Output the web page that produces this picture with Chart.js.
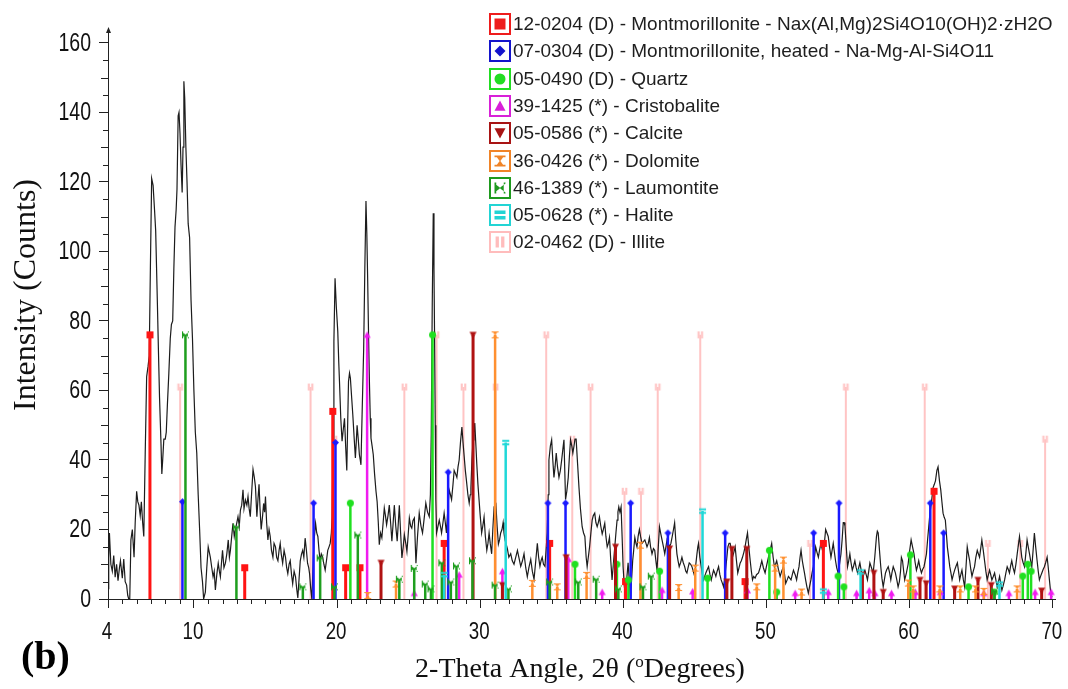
<!DOCTYPE html>
<html>
<head>
<meta charset="utf-8">
<title>XRD pattern (b)</title>
<script src="https://cdn.jsdelivr.net/npm/chart.js@4.4.1/dist/chart.umd.min.js"></script>
<style>
  html, body { margin: 0; padding: 0; background: #ffffff; }
  #wrap { width: 1068px; height: 689px; position: relative; }
  canvas { display: block; }
</style>
</head>
<body>
<div id="wrap"><canvas id="xrd" width="1068" height="689"></canvas></div>
<script>
// ---- axis tick labels ----
const xTickValues = [4, 10, 20, 30, 40, 50, 60, 70];
const yTickValues = [0, 20, 40, 60, 80, 100, 120, 140, 160];

// ---- measured scan: [2-theta, counts] ----
const scan = [
  [4.0,3],[4.05,12],[4.1,19],[4.2,10],[4.3,8],[4.4,12.5],[4.5,6.3],[4.6,10],[4.7,5.3],[4.8,9],[4.87,11],[5.0,6],[5.1,11.5],[5.2,5],[5.3,4],[5.38,1],[5.45,0],[5.52,0],
  [5.6,17],[5.7,20],[5.82,12],[5.9,22],[6.0,31],[6.08,28],[6.16,27],[6.25,24],[6.33,28],[6.42,22],[6.5,18],[6.6,42],[6.7,64],[6.8,67],[6.88,70],[6.96,95],
  [7.05,121],[7.15,119],[7.25,112],[7.33,106],[7.45,85],[7.52,72],[7.6,58],[7.7,45],[7.76,36],[7.82,40],[7.9,46],[8.0,46],[8.07,48],[8.15,56],[8.25,65],[8.35,75],
  [8.43,79],[8.52,80],[8.6,95],[8.68,107],[8.76,112],[8.82,118],[8.9,139],[8.96,140],[9.03,134],[9.1,125],[9.18,117],[9.24,130],[9.3,149],[9.36,144],[9.44,130],
  [9.52,120],[9.6,108],[9.7,104],[9.8,86],[9.9,75],[10.0,60],[10.1,48],[10.2,42],[10.3,30],[10.4,20],[10.5,9],[10.6,5],[10.68,0],
  [10.8,2],[10.9,9],[11.0,15],[11.15,12],[11.25,9],[11.34,6.4],[11.42,8],[11.5,2.6],[11.6,7],[11.7,10.3],[11.78,8],[11.85,6.4],[11.92,10],[12.0,14],[12.1,9],
  [12.2,10.3],[12.3,13],[12.4,17],[12.48,12],[12.55,14],[12.64,18],[12.73,21.8],[12.82,18],[12.9,20],[13.0,22],[13.08,23.7],[13.17,21],[13.25,25.6],[13.34,27],
  [13.43,31.4],[13.5,26],[13.6,28.5],[13.7,27],[13.78,29.5],[13.86,26],[13.94,23.7],[14.04,31],[14.13,37.3],[14.22,35],[14.3,32.3],[14.4,23.7],[14.48,29],
  [14.55,33],[14.62,26],[14.7,20],[14.8,24],[14.87,27.5],[14.94,25],[15.0,29.5],[15.08,22],[15.17,17],[15.25,20],[15.33,18],[15.42,14],[15.52,12],[15.6,16],
  [15.7,15],[15.78,12],[15.87,11],[15.95,14],[16.03,16],[16.1,13],[16.2,10.3],[16.3,14],[16.4,12],[16.48,9],[16.56,7.3],[16.65,10],[16.73,11],[16.82,7],
  [16.9,4.4],[17.0,8],[17.1,6.4],[17.18,3],[17.26,0.3],[17.35,6],[17.43,11],[17.52,13],[17.6,14],[17.68,12],[17.77,17.5],[17.86,14],[17.94,10.3],[18.02,9],
  [18.08,7.3],[18.16,3],[18.24,0],[18.31,8],[18.38,16],[18.44,19],[18.5,21.8],[18.58,19],[18.66,18],[18.74,14],[18.82,11],[18.9,13],[19.0,12],[19.08,10],
  [19.17,8.3],[19.26,11],[19.35,14],[19.44,15],[19.52,16],[19.6,19],[19.66,23.7],[19.72,45],[19.78,74],[19.86,92.3],[19.95,84],[20.05,77],[20.12,68],
  [20.17,62.6],[20.26,52],[20.35,45.4],[20.44,49],[20.52,52],[20.6,44],[20.68,37],[20.74,50],[20.8,62.6],[20.87,65],[20.93,63.6],[21.02,58],[21.1,53],
  [21.2,46],[21.28,40.6],[21.34,45],[21.4,50],[21.48,46],[21.56,41.5],[21.62,40],[21.67,38.6],[21.76,55],[21.86,72],[21.94,95],[22.02,114.5],[22.08,105],
  [22.14,91.5],[22.2,76],[22.26,62.6],[22.32,52],[22.37,46.3],[22.45,44],[22.53,41.5],[22.62,36],[22.72,31],[22.8,28],[22.88,22],[22.95,15.6],[23.04,19],
  [23.13,17.6],[23.22,22],[23.3,26.2],[23.38,24],[23.46,21.4],[23.56,24],[23.65,27],[23.74,22],[23.83,16.6],[23.92,22],[24.0,27],[24.1,21],[24.2,16.6],
  [24.28,22],[24.35,27],[24.44,19],[24.53,11.8],[24.62,15],[24.7,18.5],[24.8,16],[24.88,13.7],[24.96,18],[25.05,23.3],[25.14,21],[25.22,20.4],[25.3,22.5],
  [25.4,23.3],[25.51,10.3],[25.62,18],[25.74,24.7],[25.86,21],[25.97,19],[26.08,23],[26.2,27.6],[26.32,25],[26.44,23.7],[26.52,30],[26.58,47.7],[26.65,85],
  [26.72,111],[26.77,95],[26.81,76.5],[26.86,50],[26.9,28.6],[26.95,19],[27.05,21],[27.14,22.7],[27.22,21],[27.3,19],[27.4,22],[27.48,24.7],[27.56,22],
  [27.64,19],[27.74,26],[27.83,31.4],[27.92,30],[28.0,28.6],[28.1,33],[28.18,37],[28.28,36],[28.37,35],[28.45,38],[28.53,40],[28.62,45],[28.72,49.5],
  [28.8,45],[28.88,41],[28.96,37],[29.04,34],[29.14,30],[29.23,27.6],[29.3,30],[29.35,32],[29.42,40],[29.5,45.8],[29.56,48],[29.62,50.6],[29.7,44],
  [29.76,38.9],[29.84,33],[29.92,28.5],[30.0,24],[30.1,19],[30.18,21],[30.27,23.6],[30.36,18],[30.46,14],[30.54,16],[30.62,19],[30.7,16],[30.8,13],
  [30.88,20],[30.97,26.5],[31.03,28],[31.09,27.6],[31.18,21],[31.27,15.8],[31.35,17],[31.43,19],[31.52,20],[31.6,22],[31.66,19],[31.73,17],[31.8,16],
  [31.9,14.4],[32.0,12],[32.13,13],[32.24,11],[32.36,10],[32.48,12],[32.6,14],[32.7,12],[32.83,9.4],[32.95,11],[33.06,13],[33.18,9],[33.29,6.4],[33.4,9],
  [33.53,11.4],[33.64,8],[33.76,5.7],[33.88,11],[33.99,16],[34.08,12],[34.17,9.4],[34.25,11],[34.33,12],[34.42,10],[34.52,9.4],[34.6,14],[34.68,19],
  [34.75,30],[34.8,40],[34.9,44],[34.99,45.8],[35.07,40],[35.15,35],[35.23,38],[35.31,42],[35.4,38],[35.5,35],[35.6,37],[35.69,40],[35.77,43],[35.85,45.8],
  [35.96,28.6],[36.05,31],[36.15,35],[36.23,41],[36.31,45.8],[36.4,44],[36.47,42],[36.55,44],[36.62,46],[36.7,46],[36.8,39],[36.9,32],[37.0,26],
  [37.12,20.8],[37.22,19],[37.31,18],[37.4,12],[37.47,9.3],[37.55,12],[37.64,15],[37.73,19],[37.82,22.7],[37.9,24],[38.0,24.7],[38.08,22],[38.17,20.8],
  [38.25,22],[38.33,23.6],[38.42,21],[38.52,18.7],[38.6,20],[38.7,21.8],[38.78,18],[38.87,15],[38.95,16],[39.03,17.7],[39.12,11],[39.21,5.5],[39.3,10],
  [39.4,15],[39.48,19],[39.56,22.7],[39.62,25],[39.68,26.5],[39.76,25],[39.84,26.5],[39.92,17],[39.98,9.3],[40.06,4],[40.15,0.5],[40.24,6],[40.33,10.4],
  [40.42,5],[40.5,0.5],[40.58,6],[40.65,11],[40.72,14],[40.8,17.7],[40.88,16],[40.95,15],[41.03,18],[41.12,20],[41.2,18],[41.3,16],[41.4,16.5],[41.5,17],
  [41.58,16],[41.65,15],[41.74,16],[41.82,17.7],[41.9,15],[42.0,13],[42.1,14.5],[42.19,14],[42.27,11],[42.35,8.3],[42.44,15],[42.52,20.8],[42.6,19],
  [42.7,17],[42.8,15],[42.89,13],[42.97,15],[43.05,17],[43.14,16],[43.23,15],[43.32,16],[43.4,17.7],[43.5,20],[43.58,21.9],[43.66,17],[43.74,13],[43.82,11],
  [43.9,9.3],[44.0,10.5],[44.09,12],[44.18,10.5],[44.28,9.3],[44.36,8],[44.44,7.5],[44.52,9],[44.6,10.4],[44.7,10],[44.79,9.3],[44.88,8],[44.98,6.5],
  [45.06,10],[45.14,13],[45.2,15],[45.25,16],[45.34,12],[45.44,9.3],[45.52,7],[45.6,5.5],[45.68,6.5],[45.76,7.5],[45.86,8.5],[45.95,9.3],[46.05,7],
  [46.14,5.5],[46.22,7],[46.3,8.3],[46.38,7.5],[46.46,6.5],[46.55,8],[46.65,9.3],[46.74,7],[46.83,5.5],[46.92,4.5],[47.0,3.5],[47.08,6],[47.16,9.3],
  [47.23,12],[47.3,15],[47.38,16],[47.46,16],[47.54,14],[47.62,12],[47.72,13.5],[47.81,15],[47.9,11],[47.99,7.5],[48.08,9],[48.16,10.4],[48.24,11],
  [48.32,12],[48.42,13.5],[48.5,15],[48.58,17],[48.67,19],[48.76,15],[48.86,11],[48.94,8],[49.02,5.5],[49.1,6.5],[49.2,6],[49.3,7],[49.44,7.5],[49.55,9],
  [49.67,11],[49.78,9],[49.9,7.5],[50.0,9.5],[50.13,12],[50.25,14],[50.36,16],[50.46,12],[50.55,9.3],[50.63,10],[50.71,11],[50.83,8.5],[50.95,6.5],
  [51.06,8],[51.18,9.3],[51.26,7],[51.34,4.5],[51.44,5.5],[51.53,6.5],[51.62,6],[51.71,5.5],[51.8,7],[51.88,8.3],[52.0,7],[52.1,5.5],[52.18,7.5],[52.27,9.3],
  [52.34,12],[52.41,14],[52.5,11],[52.57,9.3],[52.65,7.5],[52.73,5.5],[52.82,3.5],[52.92,1.7],[53.0,3.5],[53.1,5.5],[53.18,7.5],[53.27,9.3],[53.35,12],
  [53.43,15],[53.52,13.5],[53.62,12],[53.7,14],[53.8,16],[53.88,14.5],[53.97,13],[54.05,16.5],[54.13,20],[54.22,19],[54.31,18],[54.4,15],[54.5,12],
  [54.58,14],[54.66,16],[54.74,13.5],[54.82,11],[54.9,9],[55.0,7.5],[55.1,10],[55.2,13],[55.28,17],[55.36,22],[55.42,22],[55.48,21],[55.57,15],[55.66,9.3],
  [55.74,11],[55.82,13],[55.9,10.5],[55.99,8.3],[56.08,9.5],[56.17,11],[56.26,9],[56.36,7.5],[56.44,9],[56.52,10.4],[56.6,8.5],[56.68,6.5],[56.78,7.5],
  [56.87,8.3],[56.96,7],[57.05,5.5],[57.14,8],[57.22,10.4],[57.33,9],[57.45,7.5],[57.56,12],[57.68,18],[57.74,19.5],[57.8,19],[57.89,14],[57.98,9.3],
  [58.06,6],[58.15,3.5],[58.23,5.5],[58.31,7.5],[58.4,8.5],[58.5,9.3],[58.6,7.5],[58.68,5.5],[58.76,7.5],[58.85,9.3],[58.92,8.5],[59.0,7.5],[59.1,5.5],
  [59.19,3.5],[59.28,5],[59.36,8],[59.42,12],[59.5,11],[59.58,8],[59.65,5.5],[59.77,7.5],[59.89,10],[60.0,14],[60.1,17],[60.2,15],[60.3,13],[60.38,10.5],
  [60.47,8.3],[60.55,9.5],[60.63,11],[60.72,9],[60.82,7.5],[60.9,8.5],[61.0,9.3],[61.08,11],[61.17,13],[61.25,17],[61.33,20.8],[61.4,24],[61.47,26.5],
  [61.55,29],[61.63,32],[61.72,33],[61.8,34],[61.9,37],[61.98,38],[62.08,34],[62.17,31.4],[62.25,28],[62.33,24.7],[62.41,23.5],[62.49,22.7],[62.56,19],
  [62.63,15],[62.72,12],[62.8,9.3],[62.88,7.5],[62.96,5.5],[63.05,7],[63.14,8.3],[63.24,9.5],[63.33,10.4],[63.41,8],[63.49,5.5],[63.57,7],[63.65,8.3],
  [63.75,5.5],[63.84,3.5],[63.93,9],[64.02,15],[64.1,13],[64.19,11],[64.27,8.5],[64.35,6.5],[64.44,8],[64.53,9.3],[64.62,12],[64.72,14],[64.8,13],
  [64.88,12],[64.96,14.5],[65.04,17],[65.14,14],[65.23,11],[65.32,8],[65.41,5.5],[65.5,7],[65.58,8.3],[65.66,7],[65.74,5.5],[65.84,6.5],[65.93,7.5],
  [66.02,5.5],[66.11,3.5],[66.2,5],[66.28,6.5],[66.36,4.5],[66.44,2.5],[66.54,4],[66.63,5.5],[66.72,7.5],[66.81,9.3],[66.89,8.5],[66.97,7.5],[67.05,9.5],
  [67.13,11],[67.22,9],[67.32,7.5],[67.42,10],[67.51,13],[67.59,15.5],[67.67,18],[67.75,15],[67.83,12],[67.92,10.5],[68.02,9.3],[68.11,13],[68.2,17],
  [68.28,15],[68.37,13],[68.45,11],[68.53,9.3],[68.62,14],[68.71,19],[68.8,15],[68.9,11],[68.98,8],[69.06,5.5],[69.14,6.5],[69.23,7.5],[69.32,8.5],
  [69.41,9.3],[69.5,10.5],[69.6,12],[69.68,9],[69.76,5.5],[69.82,3],[69.88,1],[69.95,0.5]
];

// ---- reference phase cards: line positions (2-theta) and plotted heights ----
const phaseLabels = [
  '12-0204 (D) - Montmorillonite - Nax(Al,Mg)2Si4O10(OH)2\u00b7zH2O',
  '07-0304 (D) - Montmorillonite, heated - Na-Mg-Al-Si4O11',
  '05-0490 (D) - Quartz',
  '39-1425 (*) - Cristobalite',
  '05-0586 (*) - Calcite',
  '36-0426 (*) - Dolomite',
  '46-1389 (*) - Laumontite',
  '05-0628 (*) - Halite',
  '02-0462 (D) - Illite'
];

const montmorilloniteAngles = [6.93, 13.55, 19.7, 20.6, 21.6, 27.48, 34.85, 40.15, 48.5, 53.97, 61.7];
const montmorilloniteCounts = [76, 9, 54, 9, 9, 16, 16, 5, 5, 16, 31];

const heatedMontAngles = [9.2, 18.36, 19.89, 27.76, 34.73, 35.96, 40.51, 43.11, 47.11, 53.29, 55.06, 61.44, 62.37];
const heatedMontCounts = [28, 27.6, 45, 36.5, 27.6, 27.6, 27.6, 19, 19, 19, 27.6, 27.6, 19];

const quartzAngles = [20.93, 26.67, 36.62, 39.55, 40.35, 42.53, 45.88, 50.2, 50.71, 55.0, 55.4, 60.05, 64.11, 65.9, 67.9, 68.25, 68.48];
const quartzCounts = [27.6, 76, 10, 10, 5.5, 8, 6, 14, 2, 6.6, 3.5, 12.7, 3.5, 2, 6.6, 10, 8];

const cristobaliteAngles = [22.1, 25.39, 28.53, 31.55, 36.15, 38.52, 42.7, 44.84, 48.67, 52.0, 54.31, 56.29, 57.17, 57.57, 58.73, 60.4, 62.14, 65.18, 66.93, 68.76, 69.88];
const cristobaliteCounts = [76, 1.7, 7, 8, 11.5, 2, 2.6, 2.2, 2.5, 1.7, 2, 1.7, 2.5, 1.7, 1.7, 2, 2, 1.7, 1.7, 2, 2];

const calciteAngles = [23.07, 29.5, 31.55, 36.0, 39.45, 43.23, 47.23, 47.58, 48.62, 56.7, 57.5, 58.15, 60.72, 61.15, 63.14, 64.77, 65.7, 69.22];
const calciteCounts = [10.4, 76, 4, 12, 15, 14.5, 5, 14.4, 14.4, 7, 7.5, 2, 5.5, 4.5, 3, 5.5, 4, 2.4];

const dolomiteAngles = [22.14, 24.12, 31.04, 33.64, 35.38, 37.43, 41.19, 43.86, 45.02, 49.32, 50.6, 51.18, 52.45, 59.9, 60.24, 62.1, 63.53, 64.6, 65.18, 67.5];
const dolomiteCounts = [1, 4.3, 76, 4.5, 3.5, 6.8, 15.5, 3.3, 8.9, 3.5, 8.9, 11.2, 2, 4.6, 2.9, 2.9, 2.9, 2.9, 2.2, 2.9];

const laumontiteAngles = [9.41, 12.97, 17.61, 18.82, 19.82, 21.45, 24.35, 25.39, 26.16, 26.56, 27.32, 27.95, 28.34, 29.46, 31.04, 31.97, 34.85, 36.85, 38.1, 39.65, 41.37, 41.95, 65.93];
const laumontiteCounts = [76, 20.7, 3.5, 11.8, 3.5, 18.4, 5.7, 8.8, 4.3, 2.9, 10.4, 4.9, 9.5, 11, 4, 2.9, 4.9, 4.9, 5.7, 2.9, 3.5, 6.6, 2.3];

const haliteAngles = [27.48, 31.78, 45.53, 53.97, 56.57, 66.27];
const haliteCounts = [7, 45, 25.3, 2.3, 7.8, 4.3];

const illiteAngles = [9.04, 18.15, 19.82, 24.7, 26.95, 28.83, 31.08, 34.61, 36.43, 37.71, 40.08, 41.23, 42.4, 45.37, 53.04, 55.54, 61.05, 65.46, 67.72, 69.46];
const illiteCounts = [61, 61, 46, 61, 76, 61, 61, 76, 46, 61, 31, 31, 61, 76, 16, 61, 61, 16, 16, 46];

// ---- marker glyphs ----
function drawGlyph(g, kind, cx, cy, s, color) {
  const h = s / 2;
  g.fillStyle = color;
  g.beginPath();
  switch (kind) {
    case 'square':
      g.rect(cx - h, cy - h, s, s); break;
    case 'diamond':
      g.moveTo(cx, cy - h); g.lineTo(cx + h, cy); g.lineTo(cx, cy + h); g.lineTo(cx - h, cy); g.closePath(); break;
    case 'circle':
      g.arc(cx, cy, h, 0, Math.PI * 2); break;
    case 'triangle':
      g.moveTo(cx, cy - h); g.lineTo(cx + h, cy + h * 0.85); g.lineTo(cx - h, cy + h * 0.85); g.closePath(); break;
    case 'triangleDown':
      g.moveTo(cx - h, cy - h * 0.85); g.lineTo(cx + h, cy - h * 0.85); g.lineTo(cx, cy + h); g.closePath(); break;
    case 'hourglass':
      g.rect(cx - h, cy - h, s, Math.max(1, s * 0.16));
      g.rect(cx - h, cy + h - Math.max(1, s * 0.16), s, Math.max(1, s * 0.16));
      g.moveTo(cx - h * 0.8, cy - h); g.lineTo(cx + h * 0.8, cy - h); g.lineTo(cx, cy + 0.5); g.closePath();
      g.moveTo(cx, cy - 0.5); g.lineTo(cx + h * 0.8, cy + h); g.lineTo(cx - h * 0.8, cy + h); g.closePath();
      break;
    case 'bowtie':
      g.rect(cx - h, cy - h, Math.max(1, s * 0.16), s);
      g.rect(cx + h - Math.max(1, s * 0.16), cy - h, Math.max(1, s * 0.16), s);
      g.moveTo(cx - h, cy - h * 0.8); g.lineTo(cx + 0.5, cy); g.lineTo(cx - h, cy + h * 0.8); g.closePath();
      g.moveTo(cx + h, cy - h * 0.8); g.lineTo(cx - 0.5, cy); g.lineTo(cx + h, cy + h * 0.8); g.closePath();
      break;
    case 'equals':
      g.rect(cx - h, cy - h * 0.8, s, s * 0.3);
      g.rect(cx - h, cy + h * 0.2, s, s * 0.3);
      break;
    case 'bars':
      g.rect(cx - h * 0.8, cy - h, s * 0.3, s);
      g.rect(cx + h * 0.2, cy - h, s * 0.3, s);
      break;
  }
  g.fill();
}

function glyphCanvas(kind, size, color) {
  const c = document.createElement('canvas');
  const d = Math.ceil(size) + 2;
  c.width = d; c.height = d;
  drawGlyph(c.getContext('2d'), kind, d / 2, d / 2, size, color);
  return c;
}

const phases = [
  { label: phaseLabels[0], angles: montmorilloniteAngles, counts: montmorilloniteCounts, color: '#ff1414', legendColor: '#ee1c1c', glyph: 'square', width: 3 },
  { label: phaseLabels[1], angles: heatedMontAngles, counts: heatedMontCounts, color: '#1a1aff', legendColor: '#1414cc', glyph: 'diamond', width: 2.5 },
  { label: phaseLabels[2], angles: quartzAngles, counts: quartzCounts, color: '#20e020', legendColor: '#22dd22', glyph: 'circle', width: 2.5 },
  { label: phaseLabels[3], angles: cristobaliteAngles, counts: cristobaliteCounts, color: '#f01cf0', legendColor: '#d820d8', glyph: 'triangle', width: 2.5 },
  { label: phaseLabels[4], angles: calciteAngles, counts: calciteCounts, color: '#b01212', legendColor: '#a81414', glyph: 'triangleDown', width: 3 },
  { label: phaseLabels[5], angles: dolomiteAngles, counts: dolomiteCounts, color: '#ff9030', legendColor: '#f08428', glyph: 'hourglass', width: 2.5 },
  { label: phaseLabels[6], angles: laumontiteAngles, counts: laumontiteCounts, color: '#1e9e1e', legendColor: '#1e9a1e', glyph: 'bowtie', width: 2.5 },
  { label: phaseLabels[7], angles: haliteAngles, counts: haliteCounts, color: '#20d8d8', legendColor: '#22d4d4', glyph: 'equals', width: 2.5 },
  { label: phaseLabels[8], angles: illiteAngles, counts: illiteCounts, color: '#ffc4c4', legendColor: '#ffbcbc', glyph: 'bars', width: 2 }
];

function stickDataset(ph, order) {
  const data = [];
  ph.angles.forEach((a, i) => {
    data.push({ x: a, y: 0 }, { x: a, y: ph.counts[i] }, { x: a, y: null });
  });
  return {
    label: ph.label,
    data,
    showLine: true,
    spanGaps: false,
    borderColor: ph.color,
    backgroundColor: ph.color,
    borderWidth: ph.width,
    borderCapStyle: 'butt',
    pointStyle: glyphCanvas(ph.glyph, 7, ph.color),
    pointRadius: (c) => (c.dataIndex % 3 === 1 ? 3.5 : 0),
    pointHoverRadius: 0,
    order
  };
}

const datasets = [];
phases.forEach((ph, i) => {
  datasets.push(stickDataset(ph, ph.glyph === 'bars' ? 30 : 10 - i));
});
datasets.push({
  label: 'scan',
  data: scan.map(([a, c]) => ({ x: a, y: c })),
  showLine: true,
  borderColor: '#1c1c1c',
  borderWidth: 1.2,
  pointRadius: 0,
  tension: 0,
  order: 20
});

// condensed sans for the numeric tick labels
const TICK_FAMILY = '"Liberation Sans", Arial, sans-serif';
const TICK_SQUEEZE = 0.78;

// ---- tick labels, minor ticks, axis titles, panel letter and phase key ----
const decorations = {
  id: 'decorations',
  afterDraw(chart) {
    const { ctx, chartArea, scales } = chart;
    const xs = scales.x, ys = scales.y;
    ctx.save();
    ctx.strokeStyle = '#222';
    ctx.lineWidth = 1;
    ctx.beginPath();
    for (let v = 5; v <= 69; v++) {
      if (v % 10 === 0) continue;
      const px = Math.round(xs.getPixelForValue(v)) + 0.5;
      ctx.moveTo(px, chartArea.bottom);
      ctx.lineTo(px, chartArea.bottom + 5);
    }
    for (let v = 5; v <= 160; v += 5) {
      if (v % 20 === 0) continue;
      const py = Math.round(ys.getPixelForValue(v)) + 0.5;
      const len = v % 10 === 0 ? 7 : 5;
      ctx.moveTo(chartArea.left - len, py);
      ctx.lineTo(chartArea.left, py);
    }
    ctx.stroke();

    // arrow tip on the intensity axis
    const ax = Math.round(chartArea.left) + 0.5, ay = chartArea.top;
    ctx.fillStyle = '#222';
    ctx.beginPath();
    ctx.moveTo(ax - 2.5, ay + 5);
    ctx.lineTo(ax, ay - 1);
    ctx.lineTo(ax + 2.5, ay + 5);
    ctx.closePath();
    ctx.fill();

    // numeric tick labels, placed through the scales
    ctx.fillStyle = '#111';
    ctx.textBaseline = 'middle';
    ctx.font = '25px ' + TICK_FAMILY;
    ctx.textAlign = 'right';
    yTickValues.forEach((v) => {
      ctx.save();
      ctx.translate(chartArea.left - 17, ys.getPixelForValue(v) + 1);
      ctx.scale(TICK_SQUEEZE, 1);
      ctx.fillText(String(v), 0, 0);
      ctx.restore();
    });
    ctx.font = '24px ' + TICK_FAMILY;
    ctx.textAlign = 'center';
    xTickValues.forEach((v) => {
      ctx.save();
      ctx.translate(xs.getPixelForValue(v) - 1, chartArea.bottom + 33);
      ctx.scale(TICK_SQUEEZE, 1);
      ctx.fillText(String(v), 0, 0);
      ctx.restore();
    });

    // axis titles
    ctx.fillStyle = '#111';
    ctx.save();
    ctx.translate(27, 295);
    ctx.rotate(-Math.PI / 2);
    ctx.textAlign = 'center';
    ctx.textBaseline = 'middle';
    ctx.font = '32px "Liberation Serif", "Times New Roman", serif';
    ctx.fillText('Intensity (Counts)', 0, 0);
    ctx.restore();

    const big = '28px "Liberation Serif", "Times New Roman", serif';
    const small = '17px "Liberation Serif", "Times New Roman", serif';
    const partA = '2-Theta Angle, 2\u03b8 (';
    const partB = 'o';
    const partC = 'Degrees)';
    ctx.font = big; const wA = ctx.measureText(partA).width; const wC = ctx.measureText(partC).width;
    ctx.font = small; const wB = ctx.measureText(partB).width;
    let tx = 580 - (wA + wB + wC) / 2;
    ctx.textAlign = 'left';
    ctx.textBaseline = 'alphabetic';
    ctx.font = big; ctx.fillText(partA, tx, 677); tx += wA;
    ctx.font = small; ctx.fillText(partB, tx, 667); tx += wB;
    ctx.font = big; ctx.fillText(partC, tx, 677);

    ctx.font = 'bold 40px "Liberation Serif", "Times New Roman", serif';
    ctx.fillStyle = '#000';
    ctx.fillText('(b)', 21, 669);

    // phase key
    const kx = 489, ky = 24, rowH = 27.3;
    ctx.font = '19px "Liberation Sans", Arial, sans-serif';
    ctx.textBaseline = 'middle';
    phases.forEach((ph, i) => {
      const cy = Math.round(ky + i * rowH);
      ctx.strokeStyle = ph.legendColor;
      ctx.lineWidth = 2;
      ctx.strokeRect(kx + 1, cy - 10, 20, 20);
      drawGlyph(ctx, ph.glyph, kx + 11, cy, 11, ph.legendColor);
      ctx.fillStyle = '#1e1e1e';
      ctx.fillText(ph.label, kx + 24, cy + 1);
    });
    ctx.restore();
  }
};

new Chart(document.getElementById('xrd'), {
  type: 'scatter',
  data: { datasets },
  options: {
    responsive: false,
    animation: false,
    devicePixelRatio: 1,
    events: [],
    layout: { padding: { left: 0, right: 13, top: 28, bottom: 0 } },
    plugins: { legend: { display: false }, tooltip: { enabled: false } },
    scales: {
      x: {
        type: 'linear',
        min: 4,
        max: 70.15,
        afterBuildTicks: (s) => { s.ticks = xTickValues.map((v) => ({ value: v })); },
        afterFit: (s) => { s.height = 90; s.paddingLeft = 0; s.paddingRight = 0; },
        grid: { display: true, drawOnChartArea: false, drawTicks: true, tickLength: 9, color: '#222' },
        border: { display: true, color: '#222', width: 1 },
        ticks: { display: false }
      },
      y: {
        type: 'linear',
        min: 0,
        max: 164.3,
        afterBuildTicks: (s) => { s.ticks = yTickValues.map((v) => ({ value: v })); },
        afterFit: (s) => { s.width = 108; s.paddingTop = 0; s.paddingBottom = 0; },
        grid: { display: true, drawOnChartArea: false, drawTicks: true, tickLength: 9, color: '#222' },
        border: { display: true, color: '#222', width: 1 },
        ticks: { display: false }
      }
    }
  },
  plugins: [decorations]
});
</script>
</body>
</html>
